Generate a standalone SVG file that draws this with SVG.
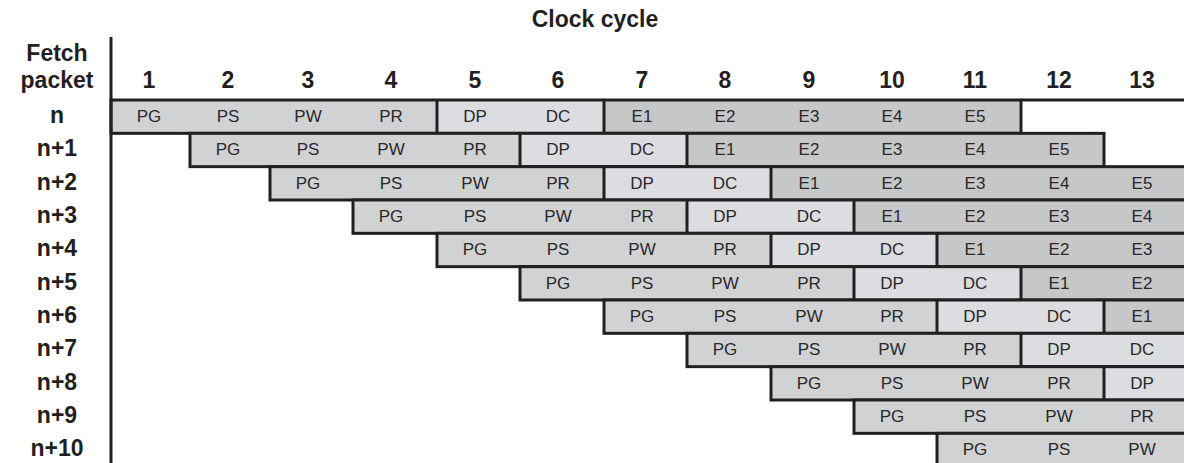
<svg xmlns="http://www.w3.org/2000/svg" width="1184" height="463" viewBox="0 0 1184 463">
<style>
.f{fill:#d1d2d4}
.d{fill:#dcdde0}
.e{fill:#c6c7c9}
.o{fill:none;stroke:#231f20;stroke-width:3}
.s{stroke:#231f20;stroke-width:3}
.c{font-family:"Liberation Sans",Arial,sans-serif;font-size:17px;fill:#2b2829;text-anchor:middle}
.h{font-family:"Liberation Sans",Arial,sans-serif;font-size:23px;font-weight:bold;fill:#231f20;text-anchor:middle}
</style>
<rect width="1184" height="463" fill="#ffffff"/>
<g id="headers">
<text class="h" x="595" y="27">Clock cycle</text>
<text class="h" x="57" y="61">Fetch</text>
<text class="h" x="57" y="88">packet</text>
<text class="h" x="149" y="88">1</text>
<text class="h" x="228" y="88">2</text>
<text class="h" x="308" y="88">3</text>
<text class="h" x="391" y="88">4</text>
<text class="h" x="475" y="88">5</text>
<text class="h" x="558" y="88">6</text>
<text class="h" x="642" y="88">7</text>
<text class="h" x="725" y="88">8</text>
<text class="h" x="809" y="88">9</text>
<text class="h" x="892" y="88">10</text>
<text class="h" x="975" y="88">11</text>
<text class="h" x="1059" y="88">12</text>
<text class="h" x="1142" y="88">13</text>
</g>
<g id="row-labels">
<text class="h" x="57" y="123">n</text>
<text class="h" x="57" y="156">n+1</text>
<text class="h" x="57" y="189.5">n+2</text>
<text class="h" x="57" y="223">n+3</text>
<text class="h" x="57" y="256">n+4</text>
<text class="h" x="57" y="289.5">n+5</text>
<text class="h" x="57" y="323">n+6</text>
<text class="h" x="57" y="356">n+7</text>
<text class="h" x="57" y="389.5">n+8</text>
<text class="h" x="57" y="423">n+9</text>
<text class="h" x="57" y="456">n+10</text>
</g>
<g id="row-n">
<rect class="f" x="111" y="100" width="326" height="33.33"/>
<rect class="d" x="437" y="100" width="167" height="33.33"/>
<rect class="e" x="604" y="100" width="417" height="33.33"/>
<line class="s" x1="437" y1="100" x2="437" y2="133.33"/>
<line class="s" x1="604" y1="100" x2="604" y2="133.33"/>
<rect class="o" x="111" y="100" width="910" height="33.33"/>
<line class="s" x1="1021" y1="100" x2="1186" y2="100"/>
<text class="c" y="122"><tspan x="149">PG</tspan><tspan x="228">PS</tspan><tspan x="308">PW</tspan><tspan x="391">PR</tspan><tspan x="475">DP</tspan><tspan x="558">DC</tspan><tspan x="642">E1</tspan><tspan x="725">E2</tspan><tspan x="809">E3</tspan><tspan x="892">E4</tspan><tspan x="975">E5</tspan></text>
</g>
<g id="row-n1">
<rect class="f" x="190" y="133.33" width="330" height="33.33"/>
<rect class="d" x="520" y="133.33" width="167" height="33.33"/>
<rect class="e" x="687" y="133.33" width="417" height="33.33"/>
<line class="s" x1="520" y1="133.33" x2="520" y2="166.67"/>
<line class="s" x1="687" y1="133.33" x2="687" y2="166.67"/>
<rect class="o" x="190" y="133.33" width="914" height="33.33"/>
<text class="c" y="155.33"><tspan x="228">PG</tspan><tspan x="308">PS</tspan><tspan x="391">PW</tspan><tspan x="475">PR</tspan><tspan x="558">DP</tspan><tspan x="642">DC</tspan><tspan x="725">E1</tspan><tspan x="809">E2</tspan><tspan x="892">E3</tspan><tspan x="975">E4</tspan><tspan x="1059">E5</tspan></text>
</g>
<g id="row-n2">
<rect class="f" x="270" y="166.67" width="334" height="33.33"/>
<rect class="d" x="604" y="166.67" width="167" height="33.33"/>
<rect class="e" x="771" y="166.67" width="416" height="33.33"/>
<line class="s" x1="604" y1="166.67" x2="604" y2="200"/>
<line class="s" x1="771" y1="166.67" x2="771" y2="200"/>
<rect class="o" x="270" y="166.67" width="917" height="33.33"/>
<text class="c" y="188.67"><tspan x="308">PG</tspan><tspan x="391">PS</tspan><tspan x="475">PW</tspan><tspan x="558">PR</tspan><tspan x="642">DP</tspan><tspan x="725">DC</tspan><tspan x="809">E1</tspan><tspan x="892">E2</tspan><tspan x="975">E3</tspan><tspan x="1059">E4</tspan><tspan x="1142">E5</tspan></text>
</g>
<g id="row-n3">
<rect class="f" x="353" y="200" width="334" height="33.33"/>
<rect class="d" x="687" y="200" width="167" height="33.33"/>
<rect class="e" x="854" y="200" width="333" height="33.33"/>
<line class="s" x1="687" y1="200" x2="687" y2="233.33"/>
<line class="s" x1="854" y1="200" x2="854" y2="233.33"/>
<rect class="o" x="353" y="200" width="834" height="33.33"/>
<text class="c" y="222"><tspan x="391">PG</tspan><tspan x="475">PS</tspan><tspan x="558">PW</tspan><tspan x="642">PR</tspan><tspan x="725">DP</tspan><tspan x="809">DC</tspan><tspan x="892">E1</tspan><tspan x="975">E2</tspan><tspan x="1059">E3</tspan><tspan x="1142">E4</tspan></text>
</g>
<g id="row-n4">
<rect class="f" x="437" y="233.33" width="334" height="33.33"/>
<rect class="d" x="771" y="233.33" width="166" height="33.33"/>
<rect class="e" x="937" y="233.33" width="250" height="33.33"/>
<line class="s" x1="771" y1="233.33" x2="771" y2="266.67"/>
<line class="s" x1="937" y1="233.33" x2="937" y2="266.67"/>
<rect class="o" x="437" y="233.33" width="750" height="33.33"/>
<text class="c" y="255.33"><tspan x="475">PG</tspan><tspan x="558">PS</tspan><tspan x="642">PW</tspan><tspan x="725">PR</tspan><tspan x="809">DP</tspan><tspan x="892">DC</tspan><tspan x="975">E1</tspan><tspan x="1059">E2</tspan><tspan x="1142">E3</tspan></text>
</g>
<g id="row-n5">
<rect class="f" x="520" y="266.67" width="334" height="33.33"/>
<rect class="d" x="854" y="266.67" width="167" height="33.33"/>
<rect class="e" x="1021" y="266.67" width="166" height="33.33"/>
<line class="s" x1="854" y1="266.67" x2="854" y2="300"/>
<line class="s" x1="1021" y1="266.67" x2="1021" y2="300"/>
<rect class="o" x="520" y="266.67" width="667" height="33.33"/>
<text class="c" y="288.67"><tspan x="558">PG</tspan><tspan x="642">PS</tspan><tspan x="725">PW</tspan><tspan x="809">PR</tspan><tspan x="892">DP</tspan><tspan x="975">DC</tspan><tspan x="1059">E1</tspan><tspan x="1142">E2</tspan></text>
</g>
<g id="row-n6">
<rect class="f" x="604" y="300" width="333" height="33.33"/>
<rect class="d" x="937" y="300" width="167" height="33.33"/>
<rect class="e" x="1104" y="300" width="83" height="33.33"/>
<line class="s" x1="937" y1="300" x2="937" y2="333.33"/>
<line class="s" x1="1104" y1="300" x2="1104" y2="333.33"/>
<rect class="o" x="604" y="300" width="583" height="33.33"/>
<text class="c" y="322"><tspan x="642">PG</tspan><tspan x="725">PS</tspan><tspan x="809">PW</tspan><tspan x="892">PR</tspan><tspan x="975">DP</tspan><tspan x="1059">DC</tspan><tspan x="1142">E1</tspan></text>
</g>
<g id="row-n7">
<rect class="f" x="687" y="333.33" width="334" height="33.33"/>
<rect class="d" x="1021" y="333.33" width="166" height="33.33"/>
<line class="s" x1="1021" y1="333.33" x2="1021" y2="366.67"/>
<rect class="o" x="687" y="333.33" width="500" height="33.33"/>
<text class="c" y="355.33"><tspan x="725">PG</tspan><tspan x="809">PS</tspan><tspan x="892">PW</tspan><tspan x="975">PR</tspan><tspan x="1059">DP</tspan><tspan x="1142">DC</tspan></text>
</g>
<g id="row-n8">
<rect class="f" x="771" y="366.67" width="333" height="33.33"/>
<rect class="d" x="1104" y="366.67" width="83" height="33.33"/>
<line class="s" x1="1104" y1="366.67" x2="1104" y2="400"/>
<rect class="o" x="771" y="366.67" width="416" height="33.33"/>
<text class="c" y="388.67"><tspan x="809">PG</tspan><tspan x="892">PS</tspan><tspan x="975">PW</tspan><tspan x="1059">PR</tspan><tspan x="1142">DP</tspan></text>
</g>
<g id="row-n9">
<rect class="f" x="854" y="400" width="333" height="33.33"/>
<rect class="o" x="854" y="400" width="333" height="33.33"/>
<text class="c" y="422"><tspan x="892">PG</tspan><tspan x="975">PS</tspan><tspan x="1059">PW</tspan><tspan x="1142">PR</tspan></text>
</g>
<g id="row-n10">
<rect class="f" x="937" y="433.33" width="250" height="33.33"/>
<rect class="o" x="937" y="433.33" width="250" height="33.33"/>
<text class="c" y="455.33"><tspan x="975">PG</tspan><tspan x="1059">PS</tspan><tspan x="1142">PW</tspan></text>
</g>
<g id="axis">
<line class="s" x1="111" y1="37" x2="111" y2="463"/>
</g>
</svg>
